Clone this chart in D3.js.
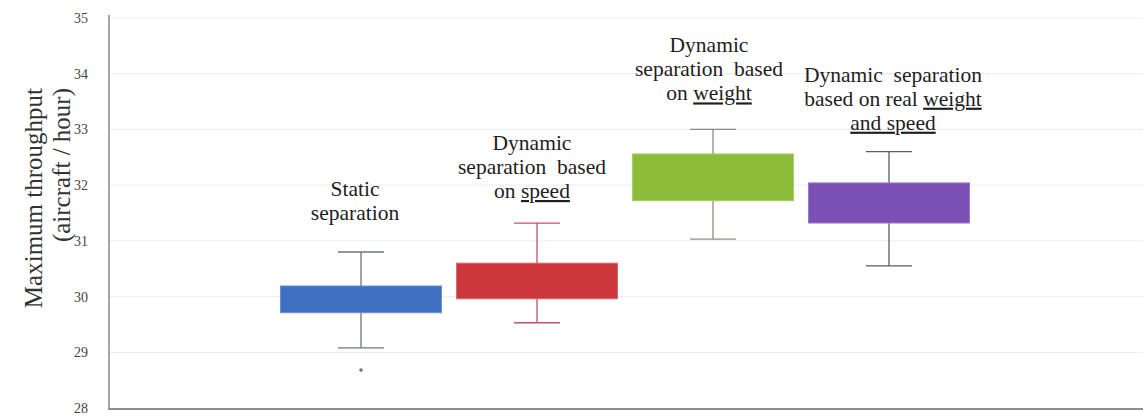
<!DOCTYPE html>
<html>
<head>
<meta charset="utf-8">
<script src="https://cdn.jsdelivr.net/npm/d3@7"></script>
<style>
  html, body { margin: 0; padding: 0; background: #ffffff; }
  svg { display: block; }
</style>
</head>
<body>
<svg id="chart" width="1143" height="418"></svg>
<script>
// Separation scenarios compared on the x axis
const categories = [
  "Static separation",
  "Dynamic separation based on speed",
  "Dynamic separation based on weight",
  "Dynamic separation based on real weight and speed"
];

// Box plot statistics (aircraft / hour)
const whiskerLow  = [29.08, 29.53, 31.03, 30.55];
const boxLow      = [29.71, 29.96, 31.72, 31.32];
const boxHigh     = [30.19, 30.60, 32.56, 32.04];
const whiskerHigh = [30.80, 31.32, 33.00, 32.60];

// Outlying observations: [category index, value]
const outliers = [[0, 28.68]];

// Y axis ticks
const yTicks = [28, 29, 30, 31, 32, 33, 34, 35];

// Category captions, one array of segments per line; underlined words flagged
const captions = [
  [[{t: "Static"}], [{t: "separation"}]],
  [[{t: "Dynamic"}], [{t: "separation  based"}], [{t: "on "}, {t: "speed", u: true}]],
  [[{t: "Dynamic"}], [{t: "separation  based"}], [{t: "on "}, {t: "weight", u: true}]],
  [[{t: "Dynamic  separation"}], [{t: "based on real "}, {t: "weight", u: true}], [{t: "and speed", u: true}]]
];

// Styling
const serif = "'Liberation Serif', 'Times New Roman', Times, serif";
const fills   = ["#3f70c2", "#cc363d", "#8dbb3a", "#7b50b4"];
const strokes = ["#6a93d6", "#dd6a6e", "#a9cf66", "#9a7bc9"];
const whiskerColors = ["#6f737a", "#c4506a", "#8a8f86", "#5f5a68"];
const captionGap = [32, 25, 29, 22];   // px between caption baseline and upper whisker
const captionDx  = [-6, -5, -4, 4];
const lineHeight = 24;

const svg = d3.select("#chart").style("font-family", serif);
const W = 1143;
const axisX = 109, axisBottom = 409;

const y = d3.scaleLinear().domain([28, 35]).range([408, 18]);
const x = d3.scaleBand().domain(categories).range([273, 977])
  .paddingInner(0.085).paddingOuter(0.0425);

// faint horizontal gridlines
svg.append("g").selectAll("line").data(yTicks.filter(d => d > 28)).join("line")
  .attr("x1", axisX).attr("x2", W)
  .attr("y1", d => y(d)).attr("y2", d => y(d))
  .attr("stroke", "#efefef").attr("stroke-width", 1.2);

// Y axis
const yAxis = d3.axisLeft(y).tickValues(yTicks).tickSize(0).tickPadding(21)
  .tickFormat(d3.format("d"));
const gy = svg.append("g").attr("transform", `translate(${axisX},0)`).call(yAxis);
gy.attr("font-family", serif);
gy.select(".domain").remove();
gy.selectAll("text").attr("font-size", 14).attr("fill", "#444")
  .style("font-family", serif);
svg.append("line").attr("x1", axisX).attr("x2", axisX)
  .attr("y1", 15).attr("y2", axisBottom)
  .attr("stroke", "#8a8a8a").attr("stroke-width", 1.5);

// X axis baseline
svg.append("line").attr("x1", axisX - 1).attr("x2", W)
  .attr("y1", axisBottom).attr("y2", axisBottom)
  .attr("stroke", "#8f8f8f").attr("stroke-width", 2);

// Y axis title
const title = svg.append("g").attr("fill", "#333").attr("font-size", 25)
  .style("font-family", serif);
title.append("text").attr("transform", "translate(42,88) rotate(-90)")
  .attr("text-anchor", "end").style("font-family", serif).text("Maximum throughput");
title.append("text").attr("transform", "translate(70,88) rotate(-90)")
  .attr("text-anchor", "end").style("font-family", serif).text("(aircraft / hour)");

// Box plots
const boxes = svg.append("g").selectAll("g").data(categories).join("g");
const capW = 46;

boxes.each(function(c, i) {
  const g = d3.select(this);
  const cx = x(c) + x.bandwidth() / 2;
  // whiskers
  g.append("line").attr("x1", cx).attr("x2", cx)
    .attr("y1", y(whiskerHigh[i])).attr("y2", y(whiskerLow[i]))
    .attr("stroke", whiskerColors[i]).attr("stroke-width", 1.3);
  [whiskerHigh[i], whiskerLow[i]].forEach(v => {
    g.append("line").attr("x1", cx - capW / 2).attr("x2", cx + capW / 2)
      .attr("y1", y(v)).attr("y2", y(v))
      .attr("stroke", whiskerColors[i]).attr("stroke-width", 1.3);
  });
  // box
  g.append("rect")
    .attr("x", x(c)).attr("width", x.bandwidth())
    .attr("y", y(boxHigh[i])).attr("height", y(boxLow[i]) - y(boxHigh[i]))
    .attr("fill", fills[i]).attr("stroke", strokes[i]).attr("stroke-width", 1);
});

// Outliers
svg.append("g").selectAll("circle").data(outliers).join("circle")
  .attr("cx", d => x(categories[d[0]]) + x.bandwidth() / 2)
  .attr("cy", d => y(d[1]))
  .attr("r", 1.8).attr("fill", "#777");

// Captions
const capG = svg.append("g").attr("fill", "#1e1e1e").attr("font-size", 21.5)
  .attr("text-anchor", "middle").style("font-family", serif);
captions.forEach((lines, i) => {
  const cx = x(categories[i]) + x.bandwidth() / 2 + captionDx[i];
  const lastBase = y(whiskerHigh[i]) - captionGap[i];
  lines.forEach((segs, j) => {
    const t = capG.append("text")
      .attr("x", cx)
      .attr("y", lastBase - (lines.length - 1 - j) * lineHeight)
      .style("font-family", serif)
      .style("white-space", "pre");
    segs.forEach(s => {
      const sp = t.append("tspan").text(s.t).style("font-family", serif);
      if (s.u) sp.attr("text-decoration", "underline");
    });
  });
});
</script>
</body>
</html>
